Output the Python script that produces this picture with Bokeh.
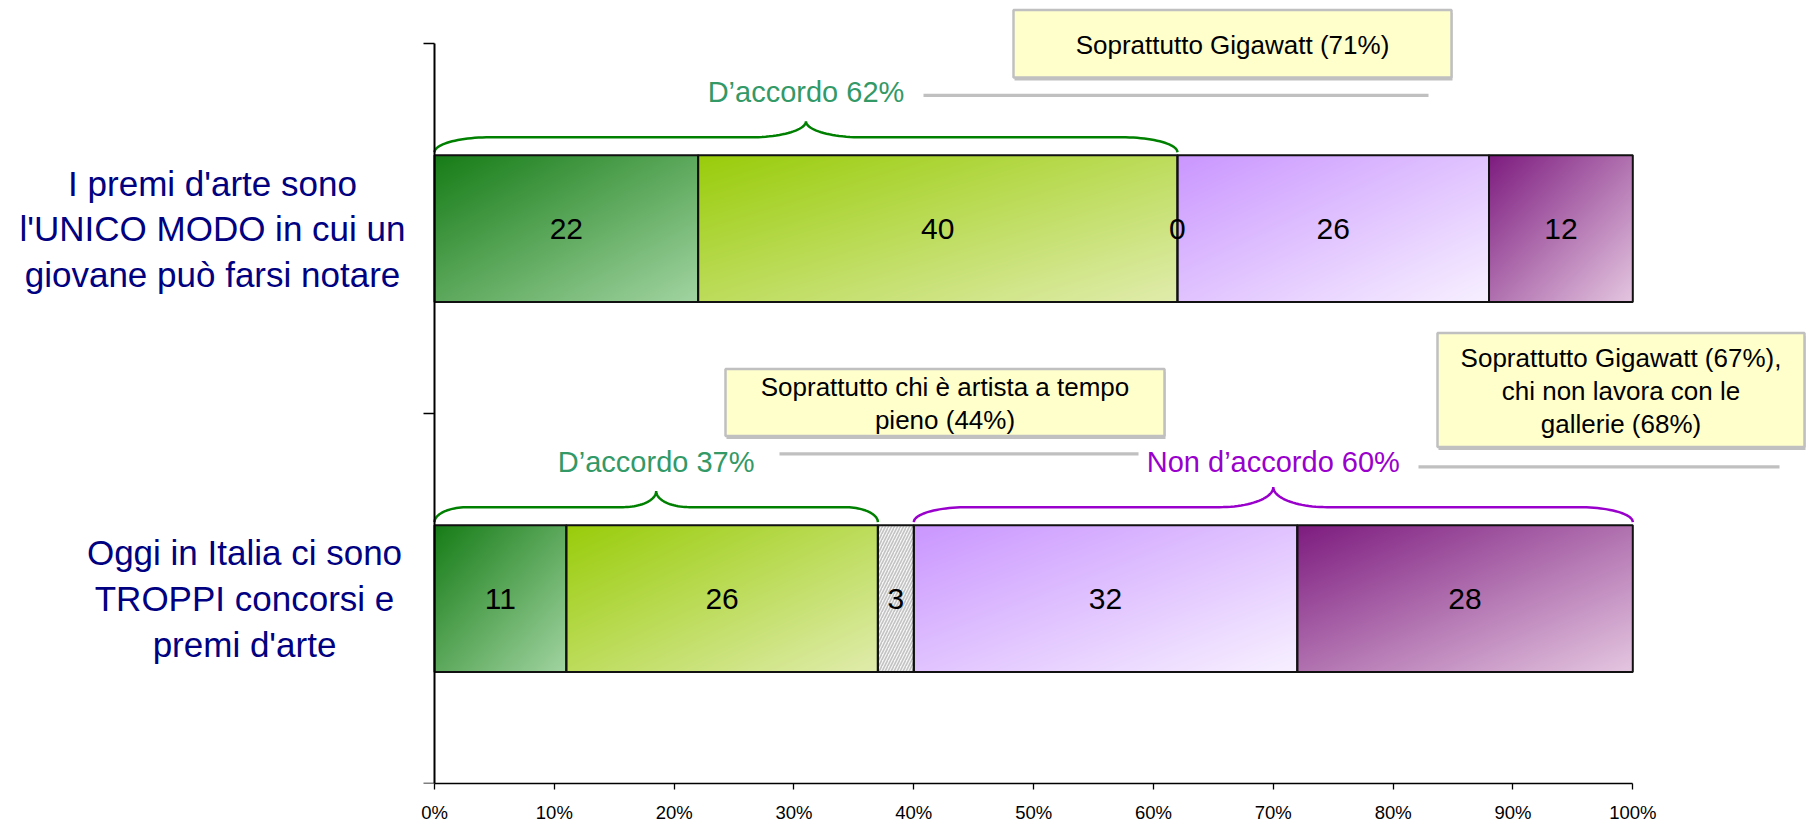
import numpy as np
from bokeh.plotting import figure
from bokeh.models import Range1d, FixedTicker, LinearAxis
from bokeh.core.properties import value
from bokeh.embed import file_html
from bokeh.resources import INLINE

# ---------------- data ----------------
categories = ["I premi d'arte sono\nl'UNICO MODO in cui un\ngiovane può farsi notare",
              "Oggi in Italia ci sono\nTROPPI concorsi e\npremi d'arte"]
molto_d_accordo = [22, 11]
abbastanza_d_accordo = [40, 26]
non_sa = [0, 3]
poco_d_accordo = [26, 32]
per_niente_d_accordo = [12, 28]
x_ticks = [0, 10, 20, 30, 40, 50, 60, 70, 80, 90, 100]
tick_labels = ["0%", "10%", "20%", "30%", "40%", "50%", "60%", "70%", "80%", "90%", "100%"]
callout_texts = ["Soprattutto Gigawatt (71%)",
                 "Soprattutto chi è artista a tempo\npieno (44%)",
                 "Soprattutto Gigawatt (67%),\nchi non lavora con le\ngallerie (68%)"]
# braces: (kind, category index)
brace_specs = [("agree", 0), ("agree", 1), ("disagree", 1)]

# ---------------- layout constants ----------------
W, H = 1808, 825
FRAME_L = 434          # px of the 0% line
FRAME_B = 784          # px of the x axis
PX_X = 11.983          # px per percentage point
PX_Y = 370.35          # px per category unit
FONT = "Liberation Sans"


def dx(px):
    return (px - FRAME_L) / PX_X


def dy(py):
    return (FRAME_B - py) / PX_Y


p = figure(width=W, height=H, output_backend="svg", toolbar_location=None,
           x_range=Range1d(dx(0), dx(W)), y_range=Range1d(0, FRAME_B / PX_Y),
           y_axis_location=None,
           min_border_left=0, min_border_right=0, min_border_top=0,
           min_border_bottom=H - FRAME_B)
p.outline_line_color = None
p.xgrid.visible = False
p.ygrid.visible = False
p.background_fill_color = "white"
p.border_fill_color = "white"

n_cat = len(categories)
cat_y = [n_cat - i - 0.5 for i in range(n_cat)]
BAR_H = 0.397

series = [molto_d_accordo, abbastanza_d_accordo, non_sa, poco_d_accordo, per_niente_d_accordo]
grads = [((22, 124, 22), (162, 212, 162)),
         ((153, 204, 10), (224, 236, 172)),
         None,
         ((202, 150, 255), (247, 240, 255)),
         ((125, 28, 127), (228, 198, 224))]


def gradient(c0, c1, nx, ny):
    u = np.linspace(0, 1, nx)[None, :]
    vb = np.linspace(0, 1, ny)[:, None]
    t = (u + (1 - vb)) / 2.0
    img = np.empty((ny, nx), dtype=np.uint32)
    view = img.view(dtype=np.uint8).reshape((ny, nx, 4))
    for ch in range(3):
        view[:, :, ch] = np.round(c0[ch] + (c1[ch] - c0[ch]) * t).astype(np.uint8)
    view[:, :, 3] = 255
    return img


lefts = [[0] * n_cat]
for s in series[:-1]:
    lefts.append([l + v for l, v in zip(lefts[-1], s)])

imgs, ix, iy, idw, idh = [], [], [], [], []
ql, qr, qt, qb = [], [], [], []
hl, hr, ht, hb = [], [], [], []
tx, ty, tt = [], [], []
for k, s in enumerate(series):
    for i in range(n_cat):
        v = s[i]
        l = lefts[k][i]
        yc = cat_y[i]
        tx.append(l + v / 2)
        ty.append(yc)
        tt.append(str(v))
        if v <= 0:
            continue
        ql.append(l); qr.append(l + v); qt.append(yc + BAR_H / 2); qb.append(yc - BAR_H / 2)
        if grads[k] is None:
            hl.append(l); hr.append(l + v); ht.append(yc + BAR_H / 2); hb.append(yc - BAR_H / 2)
        else:
            nx = max(2, int(round(v * PX_X)))
            ny = int(round(BAR_H * PX_Y))
            imgs.append(gradient(grads[k][0], grads[k][1], nx, ny))
            ix.append(l); iy.append(yc - BAR_H / 2); idw.append(v); idh.append(BAR_H)

p.image_rgba(image=imgs, x=ix, y=iy, dw=idw, dh=idh)
p.quad(left=hl, right=hr, top=ht, bottom=hb, fill_color="#f6f6f6", line_color=None,
       hatch_pattern="/", hatch_color="#c2c2c2", hatch_scale=6, hatch_weight=1.6)
p.quad(left=ql, right=qr, top=qt, bottom=qb, fill_alpha=0, line_color="#111111", line_width=2)
p.text(x=tx, y=ty, text=tt, text_font=value(FONT), text_font_size="30px",
       text_align="center", text_baseline="middle", text_color="black")

# ---------------- braces ----------------
def cubic(p0, p1, p2, p3, n=24):
    t = np.linspace(0, 1, n)
    xs = ((1 - t) ** 3) * p0[0] + 3 * ((1 - t) ** 2) * t * p1[0] + 3 * (1 - t) * t ** 2 * p2[0] + t ** 3 * p3[0]
    ys = ((1 - t) ** 3) * p0[1] + 3 * ((1 - t) ** 2) * t * p1[1] + 3 * (1 - t) * t ** 2 * p2[1] + t ** 3 * p3[1]
    return list(xs), list(ys)


def brace(x0, x1, ytop, tip_px):
    k = 0.5523
    r = (x1 - x0) * 0.075
    yE = ytop + 3 / PX_Y
    yF = ytop + 18 / PX_Y
    yT = ytop + tip_px / PX_Y
    xm = (x0 + x1) / 2
    parts = [cubic((x0, yE), (x0, yE + k * (yF - yE)), (x0 + r - k * r, yF), (x0 + r, yF)),
             cubic((xm - r, yF), (xm - r + k * r, yF), (xm, yT - k * (yT - yF)), (xm, yT)),
             cubic((xm, yT), (xm, yT - k * (yT - yF)), (xm + r - k * r, yF), (xm + r, yF)),
             cubic((x1 - r, yF), (x1 - r + k * r, yF), (x1, yE + k * (yF - yE)), (x1, yE))]
    xs, ys = [], []
    for a, b in parts:
        xs += a
        ys += b
    return xs, ys, xm


bx, by, bc = [], [], []
lx, ly, lt, lc = [], [], [], []
for kind, i in brace_specs:
    agree = molto_d_accordo[i] + abbastanza_d_accordo[i]
    disagree = poco_d_accordo[i] + per_niente_d_accordo[i]
    ytop = cat_y[i] + BAR_H / 2
    if kind == "agree":
        x0, x1, col, tcol, txt, tip = 0, agree, "#008000", "#339966", f"D’accordo {agree}%", 34
    else:
        x0, x1, col, tcol, txt, tip = 100 - disagree, 100, "#9900cc", "#9900cc", f"Non d’accordo {disagree}%", 38
    xs, ys, xm = brace(x0, x1, ytop, tip)
    bx.append(xs); by.append(ys); bc.append(col)
    lx.append(xm); ly.append(ytop + 63 / PX_Y); lt.append(txt); lc.append(tcol)

p.multi_line(xs=bx, ys=by, line_color=bc, line_width=2.5)
p.text(x=lx, y=ly, text=lt, text_color=lc, text_font=value(FONT), text_font_size="29px",
       text_align="center", text_baseline="middle")

# ---------------- connector lines & callouts ----------------
gray_lines = [(923, 1428, 95), (779, 1138, 454), (1418, 1779, 467)]
p.segment(x0=[dx(a) for a, b, c in gray_lines], x1=[dx(b) for a, b, c in gray_lines],
          y0=[dy(c) for a, b, c in gray_lines], y1=[dy(c) for a, b, c in gray_lines],
          line_color="#c0c0c0", line_width=3.3)

boxes = [(1013, 1451, 9.5, 77), (725, 1164, 369, 436), (1437, 1804, 333, 447)]
p.quad(left=[dx(b[0] + 1) for b in boxes], right=[dx(b[1] + 1) for b in boxes],
       top=[dy(b[2] + 3) for b in boxes], bottom=[dy(b[3] + 3) for b in boxes],
       fill_color="#c0c0c0", line_color=None)
p.quad(left=[dx(b[0]) for b in boxes], right=[dx(b[1]) for b in boxes],
       top=[dy(b[2]) for b in boxes], bottom=[dy(b[3]) for b in boxes],
       fill_color="#ffffcc", line_color="#c0c0c0", line_width=2.5)
p.text(x=[dx((b[0] + b[1]) / 2) for b in boxes], y=[dy((b[2] + b[3]) / 2 + 1) for b in boxes],
       text=callout_texts, text_font=value(FONT), text_font_size="26px", text_color="black",
       text_align="center", text_baseline="middle", text_line_height=1.09)

# ---------------- category labels ----------------
cat_label_x = [dx(212), dx(244)]
p.text(x=cat_label_x, y=cat_y, text=categories, text_font=value(FONT), text_font_size="35px",
       text_color="#000080", text_align="center", text_baseline="middle", text_line_height=1.17)

# ---------------- axes ----------------
xa = p.xaxis[0]
xa.ticker = FixedTicker(ticks=x_ticks)
xa.major_label_overrides = {t: lab for t, lab in zip(x_ticks, tick_labels)}
xa.bounds = (0, 100)
xa.axis_line_color = "black"
xa.axis_line_width = 1.6
xa.major_tick_line_color = "black"
xa.major_tick_line_width = 1.3
xa.major_tick_out = 6
xa.major_tick_in = 0
xa.minor_tick_out = 0
xa.minor_tick_in = 0
xa.major_label_standoff = 12
xa.major_label_text_font = FONT
xa.major_label_text_font_size = "18.5px"
xa.major_label_text_color = "black"

ya = LinearAxis(fixed_location=0, ticker=FixedTicker(ticks=[0, 1, 2]),
                major_label_overrides={0: "", 1: "", 2: ""}, bounds=(0, 2),
                axis_line_color="black", axis_line_width=2,
                major_tick_line_color="black", major_tick_line_width=1.6,
                major_tick_out=11, major_tick_in=0, minor_tick_out=0, minor_tick_in=0,
                major_label_text_font_size="1px")
p.add_layout(ya, "left")

open("out.html", "w").write(file_html(p, INLINE))
